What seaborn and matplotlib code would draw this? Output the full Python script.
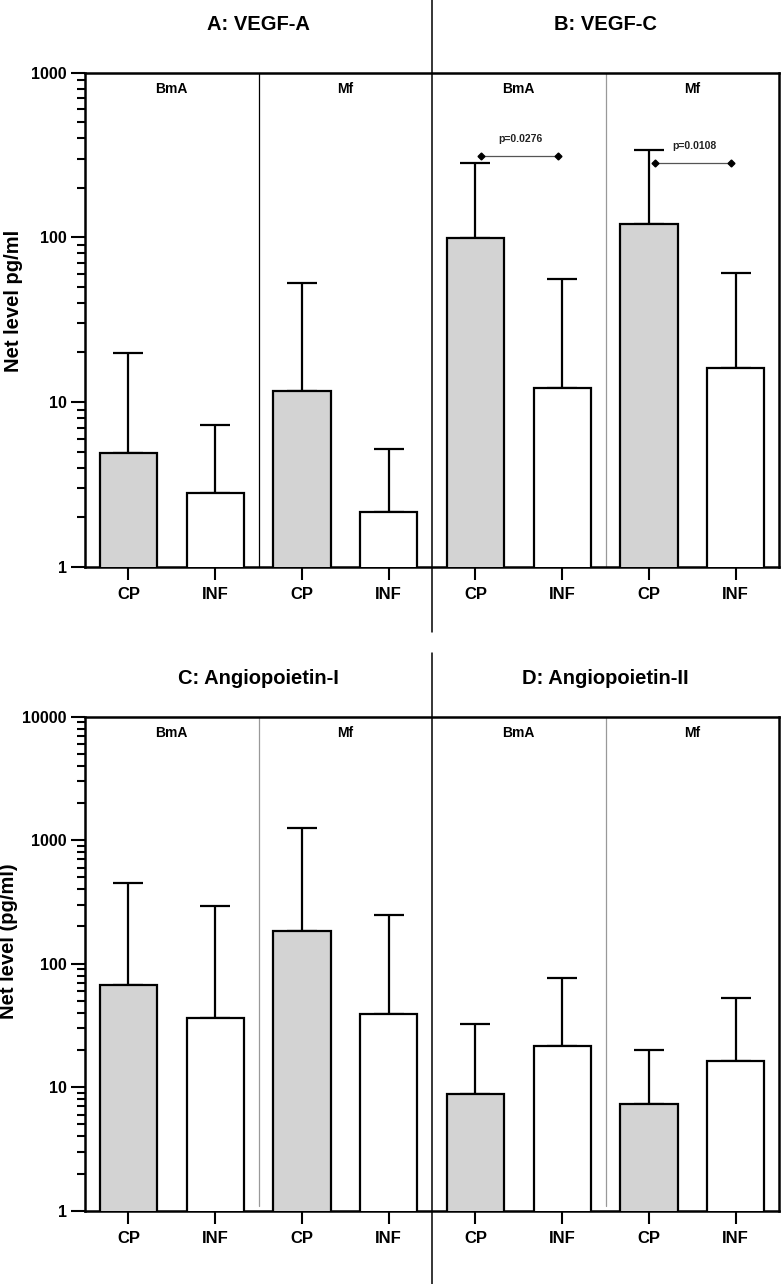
import numpy as np
import pandas as pd
import matplotlib
matplotlib.use("Agg")
import matplotlib.pyplot as plt
import matplotlib.ticker as mticker
import seaborn as sns

sns.set_style("white")
plt.rcParams['font.family'] = ['Liberation Sans', 'DejaVu Sans']
plt.rcParams['text.color'] = 'black'
plt.rcParams['axes.labelcolor'] = 'black'
plt.rcParams['xtick.color'] = 'black'
plt.rcParams['ytick.color'] = 'black'

# --- data ---
sites = ["BmA", "BmA", "Mf", "Mf"]
groups = ["CP", "INF", "CP", "INF"]

a_mean = [4.9, 2.8, 11.7, 2.15]
a_upper = [19.8, 7.3, 52.6, 5.2]
b_mean = [99, 12.2, 121, 16.1]
b_upper = [281, 55.8, 339, 61]
c_mean = [66.8, 36.1, 185, 39.1]
c_upper = [447, 293, 1254, 246]
d_mean = [8.8, 21.4, 7.3, 16.2]
d_upper = [32.7, 77, 20, 52.7]

rows = [
    {"panels": ["A: VEGF-A", "B: VEGF-C"], "means": [a_mean, b_mean],
     "uppers": [a_upper, b_upper], "ylabel": "Net level pg/ml",
     "ymax": 1000, "labely": 0.538, "labelx": -0.089},
    {"panels": ["C: Angiopoietin-I", "D: Angiopoietin-II"], "means": [c_mean, d_mean],
     "uppers": [c_upper, d_upper], "ylabel": "Net level (pg/ml)",
     "ymax": 10000, "labely": 0.545, "labelx": -0.097},
]

# significance brackets in panel B
sig_left = [4, 6]
sig_right = [5, 7]
sig_level = [312, 281]
sig_text_level = [395, 359]
sig_text = ["p=0.0276", "p=0.0108"]

palette = {"CP": "#d3d3d3", "INF": "white"}

fig = plt.figure(figsize=(7.82, 12.84), dpi=100)
ax_top = fig.add_axes([0.1087, 0.5586, 0.8875, 0.3848])
ax_bot = fig.add_axes([0.1087, 0.0571, 0.8875, 0.3848])

for ax, row in zip([ax_top, ax_bot], rows):
    slots, grp, vals, ups = [], [], [], []
    for p, panel in enumerate(row["panels"]):
        for k in range(4):
            slots.append(f"{panel[0]}-{sites[k]}-{groups[k]}")
            grp.append(groups[k])
            vals.append(row["means"][p][k])
            ups.append(row["uppers"][p][k])
    df = pd.DataFrame({"slot": slots, "group": grp, "value": vals})

    sns.barplot(data=df, x="slot", y="value", hue="group", palette=palette,
                dodge=False, width=0.66, edgecolor="black", linewidth=1.6,
                errorbar=None, legend=False, ax=ax, zorder=3)

    pos = np.arange(len(vals))
    vals = np.array(vals)
    ups = np.array(ups)
    ax.errorbar(pos, vals, yerr=[np.zeros_like(vals), ups - vals], fmt="none",
                ecolor="black", elinewidth=1.6, capsize=10.8, capthick=1.6, zorder=2)

    ax.set_yscale("log")
    ax.set_ylim(1, row["ymax"])
    ax.set_xlim(-0.5, 7.5)
    majors = [10 ** i for i in range(int(np.log10(row["ymax"])) + 1)]
    ax.yaxis.set_major_locator(mticker.FixedLocator(majors))
    ax.yaxis.set_major_formatter(mticker.FuncFormatter(lambda v, _: f"{int(round(v))}"))
    ax.yaxis.set_minor_locator(mticker.LogLocator(base=10, subs=np.arange(2, 10)))
    ax.yaxis.set_minor_formatter(mticker.NullFormatter())

    ax.set_xticks(pos)
    ax.set_xticklabels(grp, fontweight="bold", fontsize=12,
                       family=["Liberation Sans Narrow", "Liberation Sans"])
    ax.tick_params(axis="x", length=9.5, width=1.5, pad=5, direction="out", bottom=True)
    ax.tick_params(axis="y", which="major", length=10, width=1.5, pad=3,
                   labelsize=11.5, direction="out", left=True)
    ax.tick_params(axis="y", which="minor", length=5.5, width=1.5, direction="out", left=True)
    for lab in ax.get_yticklabels():
        lab.set_fontweight("bold")

    for s in ax.spines.values():
        s.set_linewidth(1.8)
        s.set_color("black")

    ax.set_xlabel("")
    ax.set_ylabel(row["ylabel"], fontsize=14.5, fontweight="bold")
    ax.yaxis.set_label_coords(row["labelx"], row["labely"])

    # dividers between sites and between panels
    ax.axvline(1.5, color="black" if ax is ax_top else "#999999", lw=0.9, zorder=1,
               ymin=-0.01 if ax is ax_top else 0.01)
    ax.axvline(5.5, color="#999999", lw=0.9, zorder=1,
               ymin=-0.01 if ax is ax_top else 0.01)
    if ax is ax_top:
        ax.axvline(3.5, ymin=-0.132, ymax=1.148, color="black", lw=1.1, clip_on=False)
    else:
        ax.axvline(3.5, ymin=-0.148, ymax=1.129, color="black", lw=1.1, clip_on=False)

    tr = ax.get_xaxis_transform()
    for x0 in [0.5, 2.5, 4.5, 6.5]:
        ax.text(x0, 0.966, sites[int(x0 + 0.5) % 4], transform=tr, ha="center",
                va="center", fontsize=10, fontweight="bold")
    title_y = 1.098 if ax is ax_top else 1.078
    for x0, panel in zip([1.5, 5.5], row["panels"]):
        ax.text(x0, title_y, panel, transform=tr, ha="center", va="center",
                fontsize=14.5, fontweight="bold")

# significance brackets
for l, r, lev, tlev, txt in zip(sig_left, sig_right, sig_level, sig_text_level, sig_text):
    ax_top.plot([l + 0.07, r - 0.05], [lev, lev], color="#555555", lw=0.9,
                marker="D", markersize=3.5, markerfacecolor="black",
                markeredgecolor="black", zorder=4)
    ax_top.text((l + r) / 2 + 0.02, tlev, txt, ha="center", va="center",
                fontsize=7.5, fontweight="bold", color="#222222")

fig.savefig("out.png", dpi=100)
